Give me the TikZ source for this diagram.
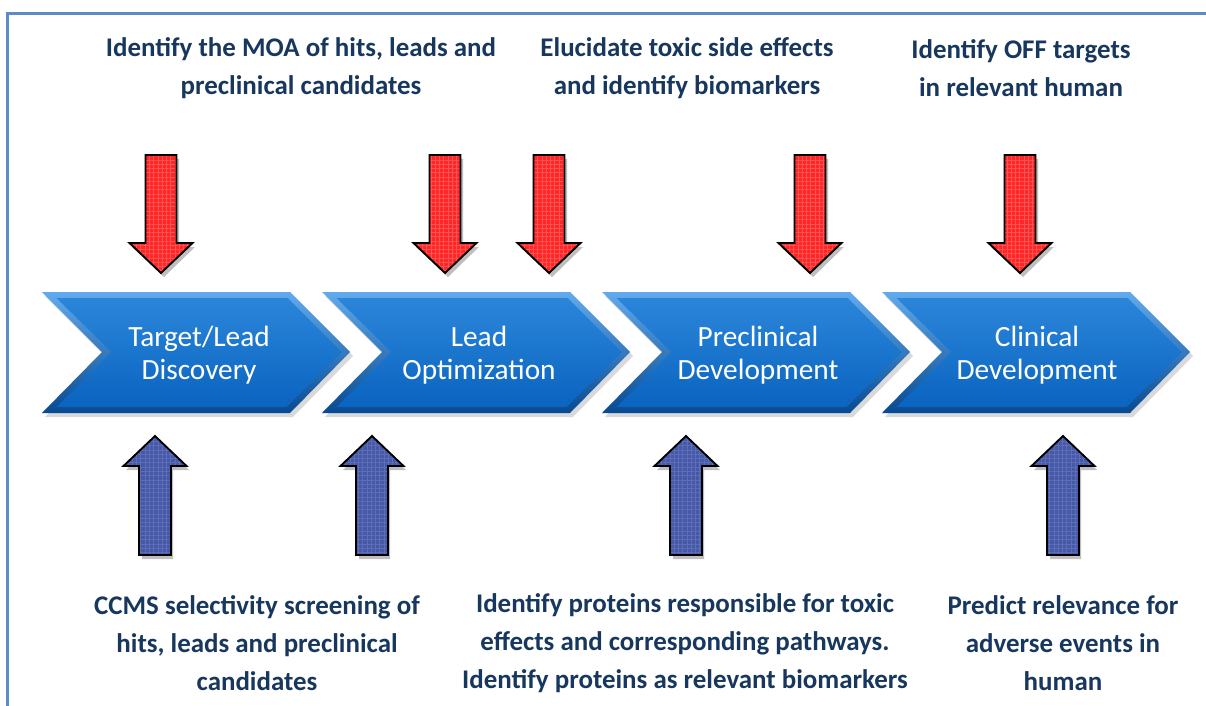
\documentclass[tikz,border=0pt]{standalone}
\usepackage{fontspec}
\setmainfont{Carlito}
\usetikzlibrary{patterns.meta}
\definecolor{navy}{HTML}{17375E}
\definecolor{framecol}{HTML}{5B8BC9}
\definecolor{redfill}{HTML}{FF2626}
\definecolor{redpat}{HTML}{FF5252}
\definecolor{bluefill}{HTML}{4658A6}
\definecolor{bluepat}{HTML}{5C6EB8}
\definecolor{chevtop}{HTML}{62AAEE}
\definecolor{chevbot}{HTML}{084A92}
\definecolor{facetop}{HTML}{2B86DA}
\definecolor{facebot}{HTML}{0A64C0}
\tikzset{
  lbl/.style={text=navy, align=center, font=\fontsize{20.2}{28.5}\selectfont\bfseries},
  chevtext/.style={text=white, align=center, font=\fontsize{22}{24.75}\selectfont},
  arrowshadow/.style={fill=black!25},
  redarr/.style={fill=redfill},
  bluearr/.style={fill=bluefill},
  outline/.style={draw=black, line width=1.4pt, line join=miter},
  redtex/.style={pattern={Lines[angle=0,distance=3.2pt,line width=0.5pt]}, pattern color=redpat},
  redtexb/.style={pattern={Lines[angle=90,distance=3.2pt,line width=0.5pt]}, pattern color=redpat},
  bluetex/.style={pattern={Lines[angle=0,distance=3.2pt,line width=0.5pt]}, pattern color=bluepat},
  bluetexb/.style={pattern={Lines[angle=90,distance=3.2pt,line width=0.5pt]}, pattern color=bluepat},
}
\newcommand{\mychevron}[1]{%
  \fill[black!15] (#1+3,296) -- (#1+251,296) -- (#1+311,356) -- (#1+251,417) -- (#1+3,417) -- (#1+63,356) -- cycle;
  \shade[top color=chevtop, bottom color=chevbot] (#1,292) -- (#1+248,292) -- (#1+308,352) -- (#1+248,413) -- (#1,413) -- (#1+60,352) -- cycle;
  \shade[top color=facetop, bottom color=facebot] (#1+14.5,298) -- (#1+245.5,298) -- (#1+299.5,352) -- (#1+244.5,407) -- (#1+14.5,407) -- (#1+69.5,352) -- cycle;
}
\newcommand{\myredarrow}[1]{%
  \fill[arrowshadow] (#1-13,159) -- (#1+18,159) -- (#1+18,247) -- (#1+34,247) -- (#1+3,277) -- (#1-29,247) -- (#1-13,247) -- cycle;
  \path[redarr] (#1-15.5,155) -- (#1+15.5,155) -- (#1+15.5,243) -- (#1+31.5,243) -- (#1,273) -- (#1-31.5,243) -- (#1-15.5,243) -- cycle;
  \path[redtex] (#1-15.5,155) -- (#1+15.5,155) -- (#1+15.5,243) -- (#1+31.5,243) -- (#1,273) -- (#1-31.5,243) -- (#1-15.5,243) -- cycle;
  \path[redtexb] (#1-15.5,155) -- (#1+15.5,155) -- (#1+15.5,243) -- (#1+31.5,243) -- (#1,273) -- (#1-31.5,243) -- (#1-15.5,243) -- cycle;
  \draw[outline] (#1-15.5,155) -- (#1+15.5,155) -- (#1+15.5,243) -- (#1+31.5,243) -- (#1,273) -- (#1-31.5,243) -- (#1-15.5,243) -- cycle;
}
\newcommand{\mybluearrow}[1]{%
  \fill[arrowshadow] (#1-29,470) -- (#1+2,440) -- (#1+34,470) -- (#1+18,470) -- (#1+18,559) -- (#1-13,559) -- (#1-13,470) -- cycle;
  \path[bluearr] (#1-31.5,466) -- (#1,436) -- (#1+31.5,466) -- (#1+16,466) -- (#1+16,555) -- (#1-16,555) -- (#1-16,466) -- cycle;
  \path[bluetex] (#1-31.5,466) -- (#1,436) -- (#1+31.5,466) -- (#1+16,466) -- (#1+16,555) -- (#1-16,555) -- (#1-16,466) -- cycle;
  \path[bluetexb] (#1-31.5,466) -- (#1,436) -- (#1+31.5,466) -- (#1+16,466) -- (#1+16,555) -- (#1-16,555) -- (#1-16,466) -- cycle;
  \draw[outline] (#1-31.5,466) -- (#1,436) -- (#1+31.5,466) -- (#1+16,466) -- (#1+16,555) -- (#1-16,555) -- (#1-16,466) -- cycle;
}
\begin{document}
\begin{tikzpicture}[x=0.75pt,y=-0.75pt]
\useasboundingbox (0,0) rectangle (1206,706);
\fill[white] (0,0) rectangle (1206,706);
\draw[framecol, line width=1.6pt] (7.5,706) -- (7.5,13.5) -- (1206,13.5);

% top labels
\node[lbl] (t1) at (301,68) {Identify the MOA of hits, leads and\\preclinical candidates};
\node[lbl] (t2) at (687,68) {Elucidate toxic side effects\\and identify biomarkers};
\node[lbl] (t3) at (1021,68) {Identify OFF targets\\in relevant human};

% red arrows
\myredarrow{161}
\myredarrow{445}
\myredarrow{549}
\myredarrow{810}
\myredarrow{1020}

% chevrons
\mychevron{42}
\mychevron{322}
\mychevron{602}
\mychevron{882}
\node[chevtext] (c1) at (199,355) {Target/Lead\\Discovery};
\node[chevtext] (c2) at (479,355) {Lead\\Optimization};
\node[chevtext] (c3) at (758,355) {Preclinical\\Development};
\node[chevtext] (c4) at (1037,355) {Clinical\\Development};

% blue arrows
\mybluearrow{155}
\mybluearrow{372}
\mybluearrow{686}
\mybluearrow{1063}

% bottom labels
\node[lbl] (b1) at (257,643.5) {CCMS selectivity screening of\\hits, leads and preclinical\\candidates};
\node[lbl] (b2) at (685,643.5) {Identify proteins responsible for toxic\\effects and corresponding pathways.\\Identify proteins as relevant biomarkers};
\node[lbl] (b3) at (1063,643.5) {Predict relevance for\\adverse events in\\human};
\end{tikzpicture}
\end{document}
